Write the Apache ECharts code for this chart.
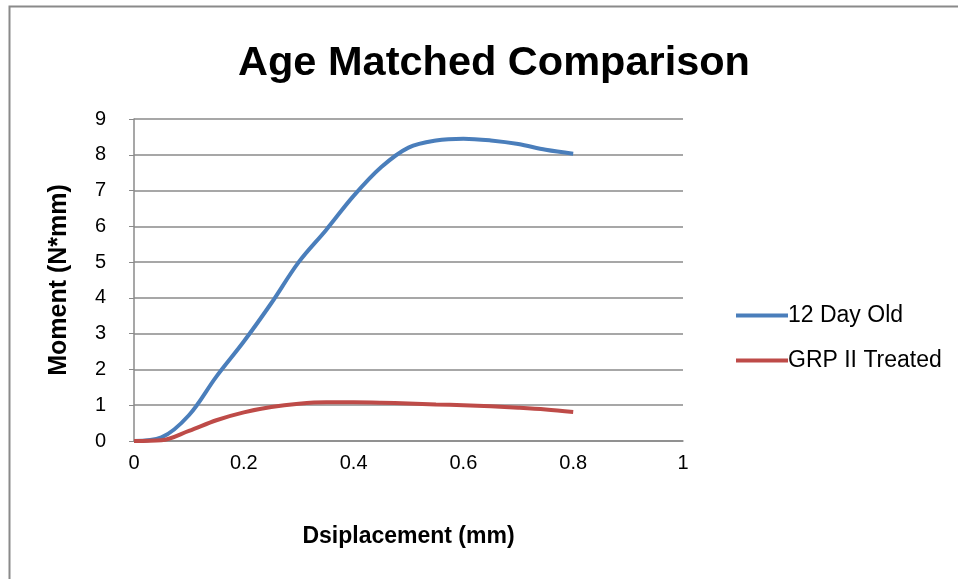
<!DOCTYPE html>
<html>
<head>
<meta charset="utf-8">
<script src="https://cdn.jsdelivr.net/npm/echarts@6/dist/echarts.min.js"></script>
<style>
html,body{margin:0;padding:0;background:#fff;}
#chart{width:958px;height:579px;}
</style>
</head>
<body>
<div id="chart"></div>
<script>
var titleText = 'Age Matched Comparison';
var xAxisName = 'Dsiplacement (mm)';
var yAxisName = 'Moment (N*mm)';
var seriesNames = ['12 Day Old', 'GRP II Treated'];
var displacement = [0, 0.05, 0.1, 0.15, 0.2, 0.25, 0.3, 0.35, 0.4, 0.45, 0.5, 0.55, 0.6, 0.65, 0.7, 0.75, 0.8];
var dayOld12 = [0, 0.1, 0.72, 1.8, 2.78, 3.85, 5.0, 5.9, 6.85, 7.65, 8.2, 8.4, 8.45, 8.4, 8.3, 8.14, 8.03];
var grpTreated = [0, 0.02, 0.28, 0.58, 0.8, 0.95, 1.04, 1.08, 1.08, 1.07, 1.05, 1.02, 1.0, 0.97, 0.93, 0.88, 0.81];

function pairs(xs, ys) { return xs.map(function (x, i) { return [x, ys[i]]; }); }

var fontFam = '"Liberation Sans", Arial, sans-serif';
var chart = echarts.init(document.getElementById('chart'));
chart.setOption({
  animation: false,
  backgroundColor: '#fff',
  title: {
    text: titleText, left: 489, top: 38, textAlign: 'center',
    textStyle: { fontFamily: fontFam, fontWeight: 'bold', fontSize: 41.5, color: '#000' }
  },
  graphic: [{
    type: 'rect', shape: { x: 9.5, y: 6.5, width: 1000, height: 700 },
    style: { fill: 'none', stroke: '#8a8a8a', lineWidth: 2 }, silent: true
  }],
  legend: {
    orient: 'vertical', left: 731, top: 299, itemGap: 22, itemWidth: 52, itemHeight: 4,
    icon: 'rect',
    textStyle: { fontFamily: fontFam, fontSize: 23, color: '#000', padding: [0, 0, 0, -5] },
    data: seriesNames
  },
  grid: { left: 134, top: 119, right: 275, bottom: 138, containLabel: false },
  xAxis: {
    type: 'value', min: 0, max: 1, interval: 0.2,
    name: xAxisName, nameLocation: 'middle', nameGap: 84,
    nameTextStyle: { fontFamily: fontFam, fontWeight: 'bold', fontSize: 23, color: '#000' },
    axisLine: { show: true, lineStyle: { color: '#8a8a8a', width: 1.5 } },
    axisTick: { show: false },
    axisLabel: { fontFamily: fontFam, fontSize: 20, color: '#000', margin: 12,
      formatter: function (v) { return String(Math.round(v * 10) / 10); } },
    splitLine: { show: false }
  },
  yAxis: {
    type: 'value', min: 0, max: 9, interval: 1,
    name: yAxisName, nameLocation: 'middle', nameGap: 62, nameRotate: 90,
    nameTextStyle: { fontFamily: fontFam, fontWeight: 'bold', fontSize: 25, color: '#000' },
    axisLine: { show: true, lineStyle: { color: '#8a8a8a', width: 1.5 } },
    axisTick: { show: true, length: 5, inside: false, lineStyle: { color: '#8a8a8a' } },
    axisLabel: { fontFamily: fontFam, fontSize: 20, color: '#000', margin: 28 },
    splitLine: { show: true, lineStyle: { color: '#8a8a8a', width: 1.5 } }
  },
  series: [
    { name: seriesNames[0], type: 'line', smooth: 0.35, showSymbol: false, symbol: 'none',
      data: pairs(displacement, dayOld12), color: '#4a7ebb', lineStyle: { width: 4, color: '#4a7ebb' } },
    { name: seriesNames[1], type: 'line', smooth: 0.35, showSymbol: false, symbol: 'none',
      data: pairs(displacement, grpTreated), color: '#be4b48', lineStyle: { width: 4, color: '#be4b48' } }
  ]
});
</script>
</body>
</html>
